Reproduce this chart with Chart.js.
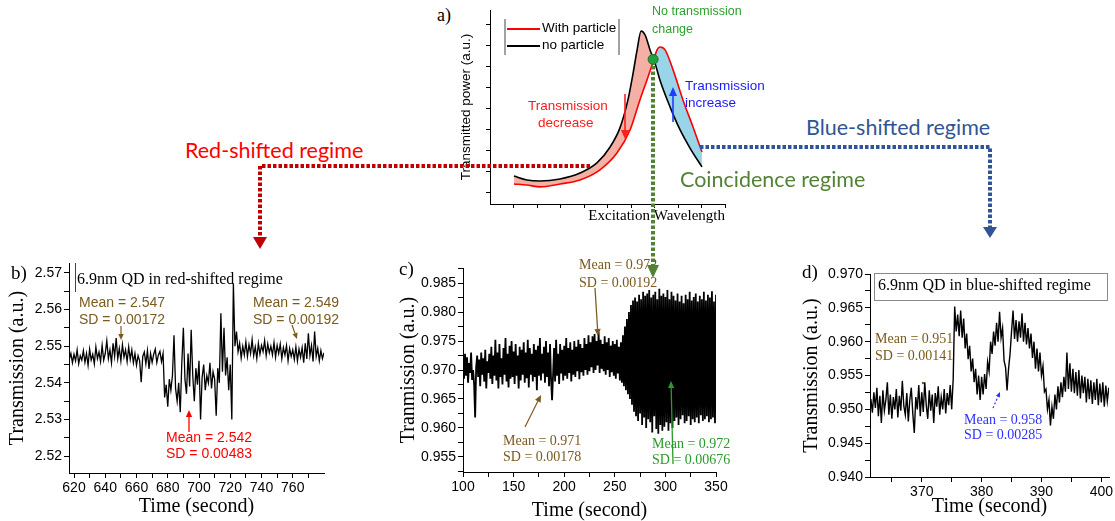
<!DOCTYPE html>
<html>
<head>
<meta charset="utf-8">
<script src="https://cdn.jsdelivr.net/npm/chart.js@4.4.0/dist/chart.umd.min.js"></script>
<style>
  html, body { margin: 0; padding: 0; background: #fff; }
  #fig { position: relative; width: 1115px; height: 521px; overflow: hidden; }
  #fig canvas { position: absolute; }
  .t { position: absolute; white-space: nowrap; line-height: 1; }
  #box { position: absolute; left: 874px; top: 273px; width: 232px; height: 26px; border: 1px solid #8a8a8a; }
  #over { position: absolute; left: 0; top: 0; }
</style>
</head>
<body>
<div id="fig">
  <canvas id="ca" width="285" height="230" style="left:455px;top:0px"></canvas>
  <canvas id="cb" width="330" height="271" style="left:0px;top:250px"></canvas>
  <canvas id="cc" width="350" height="271" style="left:380px;top:250px"></canvas>
  <canvas id="cd" width="335" height="271" style="left:780px;top:250px"></canvas>
  <div id="box"></div>
  <svg id="over" width="1115" height="521"></svg>
</div>
<script>
// a) schematic transmission peaks
const wavelengthNoParticle = [10.2, 15.7, 21.3, 29.8, 38.3, 45.5, 51.1, 55.3, 58.7, 60.9, 62.6, 64.3, 66.0, 68.1, 70.2, 72.3, 76.6, 80.9, 85.1, 90.2];
const powerNoParticle      = [8.1, 6.2, 5.7, 6.7, 9.5, 14.3, 21.9, 31.0, 44.3, 57.1, 68.1, 77.1, 75.2, 68.1, 61.9, 53.8, 41.0, 30.0, 21.4, 12.4];
const wavelengthWithParticle = [10.2, 15.7, 21.3, 29.8, 38.3, 46.8, 54.0, 59.6, 63.8, 66.8, 69.4, 71.1, 72.3, 74.5, 77.9, 82.1, 86.4, 90.2];
const powerWithParticle      = [4.3, 3.8, 2.9, 4.3, 6.2, 11.0, 19.0, 30.0, 44.3, 53.8, 62.4, 68.1, 69.5, 68.1, 58.6, 44.3, 31.4, 19.5];
const crossingPoint = [69.4, 63.6];

// b) red-shifted regime, 1 s samples from 617 s
const bTimeStart = 617, bTimeStep = 1;
const bTransmission = [
  2.5465, 2.5480, 2.5455, 2.5478, 2.5460, 2.5490, 2.5452, 2.5474, 2.5462, 2.5488,
  2.5456, 2.5480, 2.5448, 2.5492, 2.5462, 2.5478, 2.5452, 2.5498, 2.5466, 2.5484,
  2.5458, 2.5502, 2.5462, 2.5480, 2.5515, 2.5466, 2.5490, 2.5455, 2.5508, 2.5472,
  2.5522, 2.5466, 2.5494, 2.5460, 2.5504, 2.5470, 2.5490, 2.5458, 2.5498, 2.5464,
  2.5490, 2.5455, 2.5480, 2.5448, 2.5474, 2.5460, 2.5402, 2.5472, 2.5484, 2.5452,
  2.5488, 2.5438, 2.5480, 2.5456, 2.5478, 2.5492, 2.5455, 2.5476, 2.5486, 2.5458, 2.5480,
  2.5360, 2.5395, 2.5335, 2.5410, 2.5380, 2.5420, 2.5530, 2.5385, 2.5350, 2.5400,
  2.5320, 2.5455, 2.5550, 2.5410, 2.5370, 2.5480, 2.5390, 2.5545, 2.5420, 2.5350,
  2.5440, 2.5395, 2.5460, 2.5300, 2.5415, 2.5450, 2.5380, 2.5420, 2.5400, 2.5455,
  2.5385, 2.5430, 2.5410, 2.5310, 2.5440, 2.5400, 2.5590, 2.5430, 2.5550, 2.5420,
  2.5470, 2.5380, 2.5450, 2.5300, 2.5670, 2.5500, 2.5540, 2.5485, 2.5508, 2.5468,
  2.5500, 2.5476, 2.5512, 2.5472, 2.5504, 2.5480, 2.5518, 2.5474, 2.5498, 2.5466,
  2.5508, 2.5478, 2.5502, 2.5485, 2.5515, 2.5474, 2.5506, 2.5482, 2.5500, 2.5476,
  2.5510, 2.5470, 2.5502, 2.5480, 2.5506, 2.5466, 2.5496, 2.5476, 2.5502, 2.5460,
  2.5494, 2.5472, 2.5490, 2.5464, 2.5498, 2.5460, 2.5492, 2.5470, 2.5496, 2.5455,
  2.5508, 2.5465, 2.5535, 2.5474, 2.5502, 2.5458, 2.5540, 2.5472, 2.5494, 2.5460, 2.5488, 2.5466, 2.5482
];
const bXTicks = [620, 640, 660, 680, 700, 720, 740, 760];
const bYTicks = [2.52, 2.53, 2.54, 2.55, 2.56, 2.57];

// c) coincidence regime, 1 s samples from 100 s
const cTimeStart = 100, cTimeStep = 1;
const cTransmission = [
  .9715, .9685, .9728, .9690, .9722, .9678, .9712, .9695, .9730, .9683,
  .9700, .9675, .9618, .9705, .9725, .9688, .9718, .9672, .9730, .9692,
  .9720, .9680, .9735, .9668, .9715, .9695, .9728, .9685, .9740, .9676,
  .9725, .9690, .9752, .9682, .9730, .9668, .9745, .9688, .9720, .9675,
  .9738, .9692, .9755, .9680, .9728, .9670, .9742, .9685, .9750, .9688,
  .9732, .9676, .9745, .9690, .9725, .9668, .9740, .9682, .9735, .9692,
  .9748, .9678, .9730, .9686, .9752, .9670, .9738, .9692, .9728, .9680,
  .9745, .9688, .9735, .9665, .9742, .9690, .9755, .9682, .9728, .9694,
  .9740, .9678, .9750, .9688, .9730, .9672, .9745, .9685, .9648, .9692,
  .9738, .9680, .9752, .9690, .9728, .9676, .9745, .9694, .9735, .9682,
  .9742, .9690, .9755, .9685, .9738, .9695, .9748, .9680, .9735, .9692,
  .9750, .9688, .9740, .9698, .9752, .9684, .9745, .9696, .9738, .9690,
  .9755, .9700, .9745, .9692, .9760, .9698, .9748, .9705, .9758, .9695,
  .9762, .9700, .9750, .9708, .9765, .9695, .9752, .9702, .9745, .9698,
  .9758, .9692, .9748, .9700, .9755, .9688, .9742, .9696, .9750, .9690,
  .9745, .9685, .9752, .9694, .9740, .9682, .9748, .9678, .9760, .9672,
  .9775, .9665, .9788, .9658, .9800, .9650, .9812, .9640, .9820, .9628,
  .9825, .9620, .9818, .9612, .9830, .9625, .9822, .9605, .9835, .9618,
  .9828, .9600, .9832, .9615, .9838, .9610, .9825, .9592, .9830, .9620,
  .9835, .9598, .9822, .9590, .9840, .9605, .9828, .9595, .9832, .9602,
  .9826, .9610, .9838, .9595, .9822, .9608, .9835, .9600, .9828, .9612,
  .9820, .9618, .9832, .9605, .9818, .9615, .9828, .9622, .9815, .9608,
  .9830, .9612, .9822, .9620, .9835, .9605, .9820, .9615, .9826, .9610,
  .9832, .9618, .9818, .9608, .9828, .9622, .9822, .9612, .9835, .9615,
  .9820, .9620, .9830, .9610, .9825, .9615, .9836, .9618, .9818, .9608, .9830
];
const cXTicks = [100, 150, 200, 250, 300, 350];
const cYTicks = [0.955, 0.960, 0.965, 0.970, 0.975, 0.980, 0.985];

// d) blue-shifted regime, 0.25 s samples from 361.5 s
const dTimeStart = 361.5, dTimeStep = 0.25;
const dTransmission = [
  .9515, .9495, .9525, .9502, .9532, .9490, .9520, .9480, .9528, .9498,
  .9514, .9540, .9492, .9522, .9486, .9518, .9500, .9530, .9488, .9520,
  .9498, .9542, .9505, .9492, .9524, .9482, .9514, .9532, .9494, .9465,
  .9518, .9500, .9536, .9490, .9525, .9496, .9540, .9506, .9486, .9528,
  .9498, .9522, .9480, .9524, .9504, .9534, .9492, .9518, .9500, .9530,
  .9494, .9524, .9506, .9536, .9500,
  .9545, .9652, .9615, .9640, .9608, .9646, .9606, .9634, .9590, .9612,
  .9574, .9594, .9556, .9575, .9540, .9560, .9522, .9550, .9514, .9548,
  .9522, .9552, .9530, .9570, .9556, .9600, .9582, .9615, .9594, .9628,
  .9600, .9644, .9606, .9620, .9572, .9562, .9528, .9560, .9582, .9615,
  .9646, .9604, .9632, .9600, .9630, .9606, .9642, .9600, .9628, .9596,
  .9620, .9590, .9612, .9576, .9600, .9560, .9590, .9556, .9584, .9550,
  .9564, .9526, .9530, .9500, .9514, .9476, .9504, .9486, .9522, .9500,
  .9534, .9510, .9540, .9518, .9548, .9526, .9584, .9530, .9568, .9526,
  .9560, .9524, .9555, .9520, .9558, .9516, .9550, .9524, .9548, .9510,
  .9545, .9515, .9543, .9508, .9540, .9514, .9545, .9506, .9538, .9510,
  .9540, .9504, .9535, .9512, .9532
];
const dXTicks = [370, 380, 390, 400];
const dYTicks = [0.940, 0.945, 0.950, 0.955, 0.960, 0.965, 0.970];

const SANS = '"Liberation Sans", Arial, sans-serif';
const SERIF = '"Liberation Serif", "Times New Roman", serif';

function pairs(xs, ys) { return ys.map((y, i) => ({ x: xs[i], y })); }
function sampled(start, step, ys) { return ys.map((y, i) => ({ x: start + i * step, y })); }

function withMinor(major, min, max) {
  const all = major.slice();
  const st = major[1] - major[0];
  for (let i = -1; i < major.length; i++) {
    const v = major[0] + (i + 0.5) * st;
    if (v >= min - 1e-9 && v <= max + 1e-9) all.push(v);
  }
  return all.sort((a, b) => a - b);
}

function axis(o) {
  return {
    type: 'linear', min: o.min, max: o.max,
    afterBuildTicks: s => { s.ticks = (o.minor === false ? o.major : withMinor(o.major, o.min, o.max)).map(v => ({ value: v })); },
    afterFit: s => { if (s.isHorizontal()) s.height = o.size; else s.width = o.size; },
    ticks: {
      display: o.labels !== false, color: '#000', autoSkip: false, maxRotation: 0, padding: 2,
      font: { family: SANS, size: 14 },
      callback: v => o.major.some(m => Math.abs(m - v) < 1e-9) ? o.fmt(v) : ''
    },
    grid: { drawOnChartArea: false, drawTicks: true, tickLength: o.tick || 5, color: '#000' },
    border: { display: true, color: '#000', width: 1 },
    title: {
      display: true, text: o.title, color: '#000', align: o.align || 'center',
      font: { family: o.titleFont || SERIF, size: o.titleSize || 20, lineHeight: 1 },
      padding: o.titlePad
    }
  };
}

function panel(id, datasets, x, y, pad, extra) {
  return new Chart(document.getElementById(id), {
    type: 'line',
    data: { datasets },
    options: Object.assign({
      responsive: false, animation: false, events: [],
      layout: { padding: pad },
      plugins: { legend: { display: false }, tooltip: { enabled: false } },
      elements: { point: { radius: 0 } },
      scales: { x, y }
    }, extra || {})
  });
}

function trace(data, w) {
  return { data, borderColor: '#000', borderWidth: w, pointRadius: 0, fill: false, tension: 0 };
}

// panel a
panel('ca', [
  { data: pairs(wavelengthNoParticle, powerNoParticle), borderColor: '#000', borderWidth: 1.6, pointRadius: 0,
    cubicInterpolationMode: 'monotone', fill: { target: 1, above: 'rgba(240,150,135,0.75)', below: 'rgba(135,205,228,0.85)' } },
  { data: pairs(wavelengthWithParticle, powerWithParticle), borderColor: '#ff0000', borderWidth: 1.6, pointRadius: 0,
    cubicInterpolationMode: 'monotone', fill: false },
  { data: [{ x: crossingPoint[0], y: crossingPoint[1] }], showLine: false, pointRadius: 5,
    pointBackgroundColor: '#22a03a', pointBorderColor: '#17702a', pointBorderWidth: 1, order: -1 }
],
  axis({ min: 0, max: 100, major: [10, 20, 30, 40, 50, 60, 70, 80, 90, 100], minor: false, labels: false, size: 26, tick: 4,
    title: 'Excitation Wavelength', titleSize: 15, titlePad: { bottom: 6 }, align: 'end', fmt: v => '' }),
  axis({ min: -5.24, max: 87.1, major: [0, 10, 20, 30, 40, 50, 60, 70, 80], minor: false, labels: false, size: 35, tick: 4,
    title: 'Transmitted power (a.u.)', titleFont: SANS, titleSize: 13.5, titlePad: { top: 5 }, fmt: v => '' }),
  { top: 10, right: 15, left: 0, bottom: 0 },
  { plugins: { legend: { display: false }, tooltip: { enabled: false }, filler: { drawTime: 'beforeDatasetsDraw' } } }
);

// panel b
panel('cb', [trace(sampled(bTimeStart, bTimeStep, bTransmission), 1.3)],
  axis({ min: 616.8, max: 780, major: bXTicks, size: 48, title: 'Time (second)', titlePad: { bottom: 4 }, fmt: v => String(v) }),
  axis({ min: 2.5154, max: 2.5727, major: bYTicks, size: 69, title: 'Transmission (a.u.)', titlePad: { top: 8 }, fmt: v => v.toFixed(2) }),
  { top: 13, right: 6, left: 0, bottom: 0 });

// panel c
panel('cc', [trace(sampled(cTimeStart, cTimeStep, cTransmission), 1.8)],
  axis({ min: 100, max: 350, major: cXTicks, size: 49, title: 'Time (second)', titlePad: { bottom: 0 }, fmt: v => String(v) }),
  axis({ min: 0.9524, max: 0.9876, major: cYTicks, size: 83, title: 'Tranmission (a.u.)', titlePad: { top: 19 }, fmt: v => v.toFixed(3) }),
  { top: 18, right: 14, left: 0, bottom: 0 });

// panel d
panel('cd', [trace(sampled(dTimeStart, dTimeStep, dTransmission), 1.4)],
  axis({ min: 361.35, max: 401.3, major: dXTicks, size: 44, title: 'Time (second)', titlePad: { bottom: 4 }, fmt: v => String(v) }),
  axis({ min: 0.940, max: 0.970, major: dYTicks, size: 90, title: 'Transmission (a.u.)', titlePad: { top: 22 }, fmt: v => v.toFixed(3) }),
  { top: 24, right: 0, left: 0, bottom: 0 });

// text labels
const fig = document.getElementById('fig');
function label(text, x, cy, size, color, family) {
  const d = document.createElement('div');
  d.className = 't';
  d.textContent = text;
  d.style.left = x + 'px';
  d.style.top = (cy - size * 0.56) + 'px';
  d.style.fontSize = size + 'px';
  d.style.color = color;
  d.style.fontFamily = family;
  fig.insertBefore(d, document.getElementById('over'));
}
const BROWN = '#7a5a1e', LATO = 'Lato, "Liberation Sans", sans-serif';
label('a)', 437, 16, 18, '#000', SERIF);
label('b)', 11, 274, 19, '#000', SERIF);
label('c)', 399, 270, 19, '#000', SERIF);
label('d)', 802, 273, 19, '#000', SERIF);
label('With particle', 542, 29, 13.5, '#000', SANS);
label('no particle', 542, 46, 13.5, '#000', SANS);
label('No transmission', 652, 12, 12.5, '#2ca02c', SANS);
label('change', 652, 30, 12.5, '#2ca02c', SANS);
label('Transmission', 685, 87, 13.5, '#1a1aff', SANS);
label('increase', 685, 104, 13.5, '#1a1aff', SANS);
label('Transmission', 528, 107, 13.5, '#ff1a1a', SANS);
label('decrease', 538, 124, 13.5, '#ff1a1a', SANS);
label('Red-shifted regime', 185, 152, 21.5, '#ff0000', LATO);
label('Blue-shifted regime', 806, 129, 21.5, '#2f5597', LATO);
label('Coincidence regime', 680, 181, 21.5, '#548235', LATO);

label('6.9nm QD in red-shifted regime', 77, 280, 16, '#000', SERIF);
label('Mean = 2.547', 79, 303, 14, BROWN, SANS);
label('SD = 0.00172', 79, 320, 14, BROWN, SANS);
label('Mean = 2.549', 253, 303, 14, BROWN, SANS);
label('SD = 0.00192', 253, 320, 14, BROWN, SANS);
label('Mean = 2.542', 166, 438, 14, '#ff0000', SANS);
label('SD = 0.00483', 166, 454, 14, '#ff0000', SANS);

label('Mean = 0.972', 579, 266, 14, BROWN, SERIF);
label('SD = 0.00192', 579, 284, 14, BROWN, SERIF);
label('Mean = 0.971', 503, 442, 14, BROWN, SERIF);
label('SD = 0.00178', 503, 458, 14, BROWN, SERIF);
label('Mean = 0.972', 652, 445, 14, '#2a9a2a', SERIF);
label('SD = 0.00676', 652, 461, 14, '#2a9a2a', SERIF);

label('6.9nm QD in blue-shifted regime', 878, 286, 16, '#000', SERIF);
label('Mean = 0.951', 875, 340, 14, BROWN, SERIF);
label('SD = 0.00141', 875, 357, 14, BROWN, SERIF);
label('Mean = 0.958', 964, 421, 14, '#3030ff', SERIF);
label('SD = 0.00285', 964, 436, 14, '#3030ff', SERIF);

// connectors and arrows
const svg = document.getElementById('over');
const NS = 'http://www.w3.org/2000/svg';
function el(tag, attrs) {
  const e = document.createElementNS(NS, tag);
  for (const k in attrs) e.setAttribute(k, attrs[k]);
  svg.appendChild(e);
  return e;
}
function arrow(x1, y1, x2, y2, color, w, head, dash) {
  const a = Math.atan2(y2 - y1, x2 - x1);
  const bx = x2 - Math.cos(a) * head, by = y2 - Math.sin(a) * head;
  el('line', { x1, y1, x2: bx, y2: by, stroke: color, 'stroke-width': w, 'stroke-dasharray': dash || 'none' });
  const px = Math.sin(a) * head * 0.45, py = -Math.cos(a) * head * 0.45;
  el('polygon', { points: `${x2},${y2} ${bx + px},${by + py} ${bx - px},${by - py}`, fill: color });
}
// legend frame and keys of panel a
el('line', { x1: 505, y1: 19, x2: 505, y2: 55, stroke: '#444', 'stroke-width': 1 });
el('line', { x1: 619, y1: 19, x2: 619, y2: 55, stroke: '#444', 'stroke-width': 1 });
el('line', { x1: 507, y1: 29, x2: 540, y2: 29, stroke: '#ff0000', 'stroke-width': 2 });
el('line', { x1: 507, y1: 46, x2: 540, y2: 46, stroke: '#000', 'stroke-width': 2 });
// bar at left of the panel b caption
el('line', { x1: 75.5, y1: 263, x2: 75.5, y2: 292, stroke: '#444', 'stroke-width': 1 });
arrow(625, 94, 625, 139, '#ff2020', 1.6, 9);
arrow(673, 122, 673, 87, '#1f3fff', 1.6, 9);
// dotted regime connectors
el('polyline', { points: '590,166 260,166 260,238', fill: 'none', stroke: '#c00000', 'stroke-width': 4, 'stroke-dasharray': '3.5 2' });
el('polygon', { points: '253,237 267,237 260,249', fill: '#c00000' });
el('polyline', { points: '700,147 990,147 990,228', fill: 'none', stroke: '#2f5597', 'stroke-width': 4, 'stroke-dasharray': '3.5 2' });
el('polygon', { points: '983,227 997,227 990,238', fill: '#2f5597' });
el('line', { x1: 653, y1: 66, x2: 653, y2: 266, stroke: '#548235', 'stroke-width': 4, 'stroke-dasharray': '3.5 2' });
el('polygon', { points: '647,265 659,265 653,278', fill: '#548235' });
// annotation arrows
arrow(121, 326, 121, 340, BROWN, 1.2, 6);
arrow(292, 325, 297, 339, BROWN, 1.2, 6);
arrow(189, 432, 189, 410, '#ff0000', 1.3, 7);
arrow(595, 288, 598, 336, BROWN, 1.2, 7);
arrow(525, 427, 541, 395, BROWN, 1.2, 7);
arrow(673, 464, 671, 381, '#2a9a2a', 1.3, 7);
arrow(993, 408, 1000, 392, '#3030ff', 1.2, 5, '2 2');
el('circle', { cx: 923, cy: 383, r: 1.2, fill: BROWN });
</script>
</body>
</html>
